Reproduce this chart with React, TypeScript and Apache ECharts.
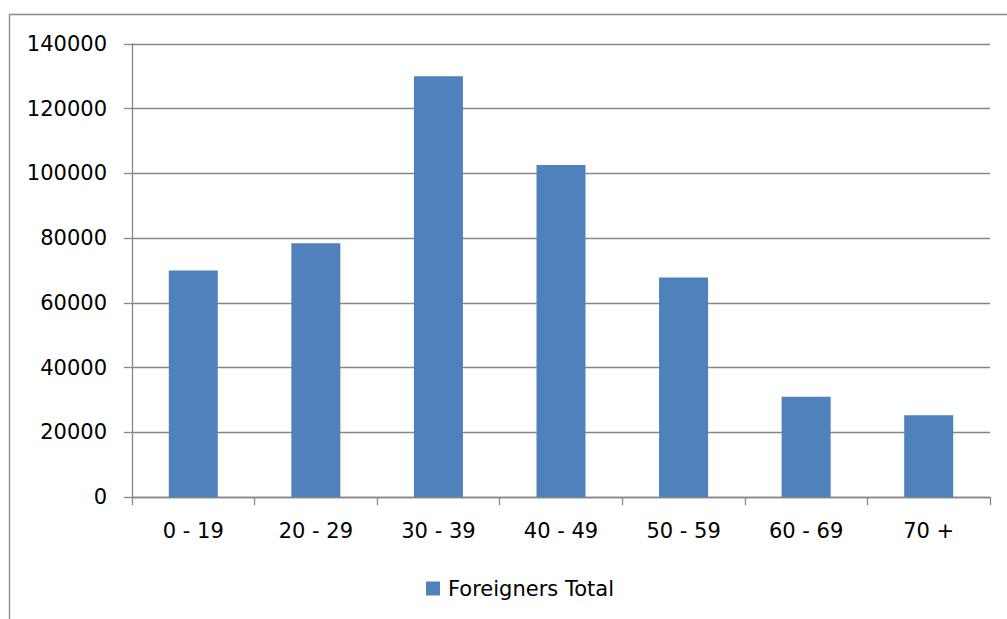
import React, { useEffect, useRef } from "react";
import * as echarts from "echarts";

const ageGroups = ["0 - 19", "20 - 29", "30 - 39", "40 - 49", "50 - 59", "60 - 69", "70 +"];
const foreignersTotal = [70000, 78400, 130000, 102600, 67800, 31000, 25300];
const yMin = 0;
const yMax = 140000;
const yStep = 20000;

const FONT = "DejaVu Sans";
const AXIS_GRAY = "#868686";

export default function App() {
  const ref = useRef<HTMLDivElement>(null);

  useEffect(() => {
    if (!ref.current) return;
    const chart = echarts.init(ref.current, undefined, { renderer: "svg" });
    chart.setOption({
      animation: false,
      backgroundColor: "#ffffff",
      textStyle: { fontFamily: FONT },
      graphic: [
        {
          type: "rect",
          shape: { x: 9.5, y: 14.5, width: 1010, height: 620 },
          style: { fill: "none", stroke: AXIS_GRAY, lineWidth: 1.3 },
          silent: true,
        },
      ],
      grid: { left: 132, right: 17, top: 44, bottom: 122 },
      legend: {
        left: 421,
        top: 573,
        itemWidth: 14,
        itemHeight: 14,
        itemGap: 10,
        icon: "rect",
        textStyle: { fontFamily: FONT, fontSize: 21, color: "#000", padding: [0, 0, 0, 3] },
        data: ["Foreigners Total"],
      },
      xAxis: {
        type: "category",
        data: ageGroups,
        boundaryGap: true,
        axisLine: { show: true, lineStyle: { color: AXIS_GRAY, width: 1.3 } },
        axisTick: { show: true, length: 8, alignWithLabel: false, lineStyle: { color: AXIS_GRAY, width: 1.3 } },
        axisLabel: { color: "#000", fontFamily: FONT, fontSize: 21, margin: 23 },
        splitLine: { show: false },
      },
      yAxis: {
        type: "value",
        min: yMin,
        max: yMax,
        interval: yStep,
        axisLine: { show: true, lineStyle: { color: AXIS_GRAY, width: 1.3 } },
        axisTick: { show: true, length: 8, lineStyle: { color: AXIS_GRAY, width: 1.3 } },
        axisLabel: {
          color: "#000",
          fontFamily: FONT,
          fontSize: 21,
          margin: 25,
          formatter: (v: number) => String(v),
        },
        splitLine: { show: true, lineStyle: { color: AXIS_GRAY, width: 1.3 } },
      },
      series: [
        {
          name: "Foreigners Total",
          type: "bar",
          data: foreignersTotal,
          barWidth: 49,
          itemStyle: { color: "#4F81BD" },
        },
      ],
    });
    return () => chart.dispose();
  }, []);

  return (
    <div
      ref={ref}
      style={{ position: "fixed", left: 0, top: 0, width: 1007, height: 619 }}
    />
  );
}
